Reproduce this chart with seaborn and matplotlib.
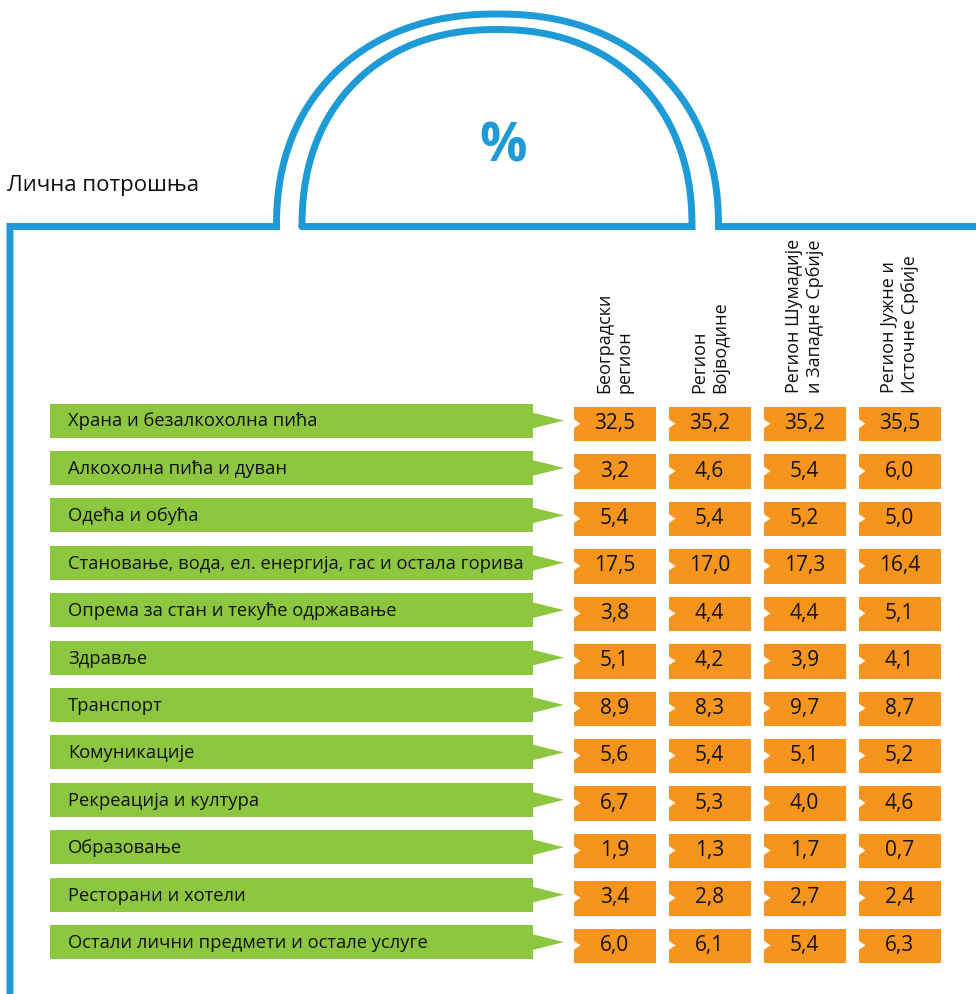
import numpy as np
import pandas as pd
import matplotlib
matplotlib.use('Agg')
import matplotlib.pyplot as plt
from matplotlib.colors import ListedColormap
from matplotlib.patches import Polygon, Rectangle
import seaborn as sns

# --- data ---
categories = [
    'Храна и безалкохолна пића',
    'Алкохолна пића и дуван',
    'Одећа и обућа',
    'Становање, вода, ел. енергија, гас и остала горива',
    'Опрема за стан и текуће одржавање',
    'Здравље',
    'Транспорт',
    'Комуникације',
    'Рекреација и култура',
    'Образовање',
    'Ресторани и хотели',
    'Остали лични предмети и остале услуге',
]
regions = ['Београдски\nрегион', 'Регион\nВојводине',
           'Регион Шумадије\nи Западне Србије', 'Регион Јужне и\nИсточне Србије']
beograd   = [32.5, 3.2, 5.4, 17.5, 3.8, 5.1, 8.9, 5.6, 6.7, 1.9, 3.4, 6.0]
vojvodina = [35.2, 4.6, 5.4, 17.0, 4.4, 4.2, 8.3, 5.4, 5.3, 1.3, 2.8, 6.1]
sumadija  = [35.2, 5.4, 5.2, 17.3, 4.4, 3.9, 9.7, 5.1, 4.0, 1.7, 2.7, 5.4]
juzna     = [35.5, 6.0, 5.0, 16.4, 5.1, 4.1, 8.7, 5.2, 4.6, 0.7, 2.4, 6.3]

df = pd.DataFrame({regions[0]: beograd, regions[1]: vojvodina,
                   regions[2]: sumadija, regions[3]: juzna}, index=categories)
labels = df.apply(lambda c: c.map(lambda v: f'{v:.1f}'.replace('.', ',')))

# --- style ---
sns.set_theme(style='white')
FONT = ['Open Sans', 'DejaVu Sans']
plt.rcParams['font.family'] = FONT

BLUE = '#1e9ad6'
GREEN = '#8dc63f'
ORANGE = '#f7941d'
INK = '#111111'

W, H = 976, 994
fig = plt.figure(figsize=(W / 100, H / 100), dpi=100)

# background frame (pixel coordinates)
bg = fig.add_axes([0, 0, 1, 1], zorder=0)
bg.set_xlim(0, W)
bg.set_ylim(H, 0)
bg.axis('off')


def dome(cx, a, b, base, n=2.2):
    # superellipse-shaped arch, left base -> top -> right base
    t = np.linspace(np.pi, 0, 300)
    c, s = np.cos(t), np.sin(t)
    x = cx + a * np.sign(c) * np.abs(c) ** (2 / n)
    y = base - b * np.abs(s) ** (2 / n)
    return x, y


base_y = 226.5
lw = 5.0
ox, oy = dome(497.5, 221, 212.5, base_y)
frame_x = np.concatenate([[10, 10], ox, [W + 5]])
frame_y = np.concatenate([[H + 5, base_y], oy, [base_y]])
bg.plot(frame_x, frame_y, color=BLUE, lw=lw, solid_joinstyle='miter')

ix, iy = dome(497, 195, 197, base_y)
bg.plot(np.append(ix, ix[0]), np.append(iy, iy[0]), color=BLUE, lw=lw,
        solid_joinstyle='miter')

bg.text(503, 148, '%', color=BLUE, fontsize=38, fontweight='bold',
        ha='center', va='center')
bg.text(7, 185, 'Лична потрошња', color=INK, fontsize=16,
        ha='left', va='center')

# table axes
col_px = 95.0
ax_left, ax_right, ax_top, ax_bot = 40, 947, 400, 969
row_px = (ax_bot - ax_top) / len(categories)
ax = fig.add_axes([ax_left / W, 1 - ax_bot / H, (ax_right - ax_left) / W,
                   (ax_bot - ax_top) / H], zorder=1)
ax.patch.set_alpha(0)

gap = 13  # px
sns.heatmap(df, ax=ax, cmap=ListedColormap([ORANGE]), cbar=False,
            annot=labels.values, fmt='', linewidths=gap * 0.72, linecolor='white',
            xticklabels=regions, yticklabels=False,
            annot_kws=dict(fontsize=15, color=INK, family=FONT))
ax.set_xlim(-(567 - ax_left) / col_px, len(regions))
ax.set_ylim(len(categories), 0)

# notches on left side of the orange cells
nd, nh = 7 / col_px, 6 / row_px
for i in range(len(categories)):
    for j in range(len(regions)):
        xl = j + (gap / 2) / col_px
        yc = i + 0.5
        ax.add_patch(Polygon([(xl - 0.02, yc - nh), (xl + nd, yc), (xl - 0.02, yc + nh)],
                             closed=True, fc='white', ec='none', zorder=5))

# green banners with arrow heads
b_x0 = (50 - 567) / col_px
b_x1 = (533 - 567) / col_px
tip = (564 - 567) / col_px
b_h = 34 / row_px
for i, cat in enumerate(categories):
    y0 = i + (gap / 2 - 3) / row_px
    yc = y0 + b_h / 2
    ax.add_patch(Rectangle((b_x0, y0), b_x1 - b_x0, b_h, fc=GREEN, ec='none'))
    th = 8 / row_px
    ax.add_patch(Polygon([(b_x1 - 0.01, yc - th), (tip, yc), (b_x1 - 0.01, yc + th)],
                         closed=True, fc=GREEN, ec='none'))
    ax.text((68 - 567) / col_px, yc + 1 / row_px, cat, fontsize=13.2,
            color=INK, ha='left', va='center')

# column headers on top
ax.xaxis.tick_top()
ax.tick_params(axis='x', length=0, pad=5)
for lab in ax.get_xticklabels():
    lab.set_rotation(90)
    lab.set_ha('center')
    lab.set_va('bottom')
    lab.set_multialignment('left')
    lab.set_fontsize(13)
    lab.set_color(INK)

fig.savefig('out.png', dpi=100)
